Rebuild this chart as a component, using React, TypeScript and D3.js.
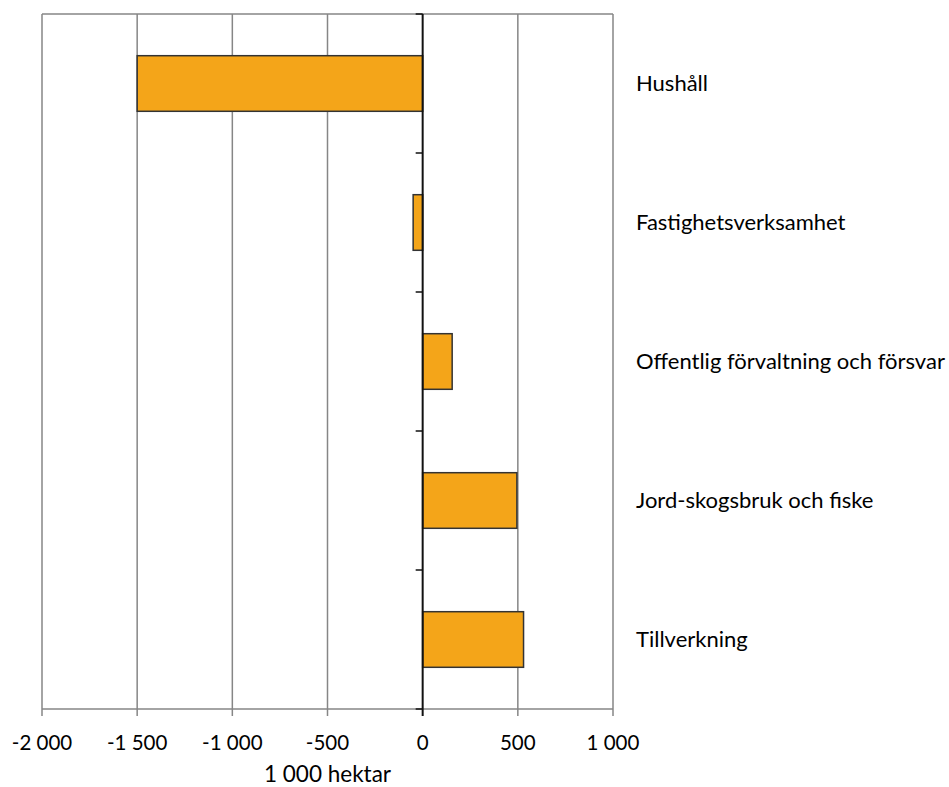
import React from "react";
import * as d3 from "d3";

const categories = [
  "Hushåll",
  "Fastighetsverksamhet",
  "Offentlig förvaltning och försvar",
  "Jord-skogsbruk och fiske",
  "Tillverkning",
];
const values = [-1500, -50, 155, 495, 530];
const xTicks = [-2000, -1500, -1000, -500, 0, 500, 1000];
const axisTitle = "1 000 hektar";

const W = 949;
const H = 787;
const margin = { left: 42, right: 336, top: 14, bottom: 78 };
const FONT = "Lato, 'Open Sans', sans-serif";

const fmt = (v: number) => {
  const s = Math.abs(v).toString().replace(/\B(?=(\d{3})+(?!\d))/g, " ");
  return (v < 0 ? "-" : "") + s;
};

export default function App() {
  const x = d3
    .scaleLinear()
    .domain([-2000, 1000])
    .range([margin.left, W - margin.right]);
  const y = d3
    .scaleBand<string>()
    .domain(categories)
    .range([margin.top, H - margin.bottom])
    .paddingInner(0.6)
    .paddingOuter(0.3);
  const step = y.step();
  const top = margin.top;
  const bottom = H - margin.bottom;
  const x0 = x(0);

  return (
    <svg
      width={W}
      height={H}
      style={{ position: "absolute", left: 0, top: 0 }}
      fontFamily={FONT}
    >
      <rect x={0} y={0} width={W} height={H} fill="#fff" />
      {/* vertical gridlines with bottom tick marks */}
      {xTicks
        .filter((t) => t !== 0)
        .map((t) => (
          <line
            key={t}
            x1={x(t)}
            x2={x(t)}
            y1={top}
            y2={bottom + 7}
            stroke="#868686"
            strokeWidth={1.5}
          />
        ))}
      <line x1={x(-2000)} x2={x(1000)} y1={top} y2={top} stroke="#868686" strokeWidth={1.5} />
      <line x1={x(-2000)} x2={x(1000)} y1={bottom} y2={bottom} stroke="#868686" strokeWidth={1.5} />
      {/* bars */}
      {categories.map((c, i) => {
        const v = values[i];
        return (
          <rect
            key={c}
            x={Math.min(x(v), x0)}
            y={y(c)}
            width={Math.abs(x(v) - x0)}
            height={y.bandwidth()}
            fill="#F4A519"
            stroke="#333"
            strokeWidth={1.5}
          />
        );
      })}
      {/* zero axis with category ticks */}
      <line x1={x0} x2={x0} y1={top} y2={bottom + 7} stroke="#111" strokeWidth={2} />
      {d3.range(categories.length + 1).map((i) => (
        <line
          key={i}
          x1={x0 - 7}
          x2={x0}
          y1={top + i * step}
          y2={top + i * step}
          stroke="#111"
          strokeWidth={1.5}
        />
      ))}
      {/* category labels */}
      {categories.map((c) => (
        <text
          key={c}
          x={636}
          y={(y(c) as number) + y.bandwidth() / 2}
          dy="0.35em"
          fontSize={22}
          fill="#000"
        >
          {c}
        </text>
      ))}
      {/* x tick labels */}
      {xTicks.map((t) => (
        <text key={t} x={x(t)} y={750} textAnchor="middle" fontSize={20.5} fill="#000">
          {fmt(t)}
        </text>
      ))}
      <text x={(x(-2000) + x(1000)) / 2} y={782} textAnchor="middle" fontSize={22.5} fill="#000">
        {axisTitle}
      </text>
    </svg>
  );
}
